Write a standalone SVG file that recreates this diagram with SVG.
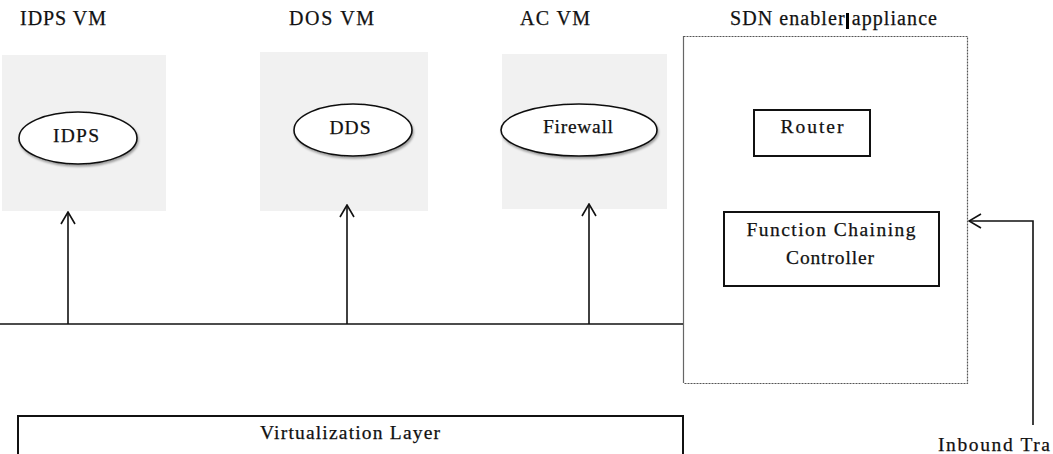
<svg xmlns="http://www.w3.org/2000/svg" width="1053" height="454" viewBox="0 0 1053 454">
  <defs>
    <style>
      .lbl { font-family: "Liberation Serif", "Times New Roman", serif; fill: #111; stroke: #111; stroke-width: 0.25; }
      .title { font-size: 20px; }
      .inner { font-size: 19.5px; }
      .vm { fill: #f1f1f1; stroke: none; }
      .oval { fill: #fff; stroke: #111; stroke-width: 1.6; }
      .box { fill: #fff; stroke: #111; stroke-width: 2; }
      .wire { fill: none; stroke: #111; stroke-width: 1.6; }
      .dotted { fill: none; stroke: #555; stroke-width: 1.2; stroke-dasharray: 2 1; }
    </style>
    <marker id="open-head" viewBox="0 0 16 16" refX="15" refY="8" markerWidth="16" markerHeight="16" markerUnits="userSpaceOnUse" orient="auto">
      <path d="M 3 1 L 15 8 L 3 15" fill="none" stroke="#111" stroke-width="1.6"/>
    </marker>
    <filter id="soft-shadow" x="-10%" y="-20%" width="125%" height="150%">
      <feDropShadow dx="1" dy="2" stdDeviation="1.2" flood-color="#000" flood-opacity="0.35"/>
    </filter>
  </defs>

  <!-- IDPS virtual machine -->
  <g id="idps-vm">
    <text class="lbl title" x="20" y="25" textLength="86" lengthAdjust="spacing">IDPS VM</text>
    <rect class="vm" x="2" y="55" width="164" height="156"/>
    <ellipse class="oval" cx="78" cy="138" rx="59" ry="26" filter="url(#soft-shadow)"/>
    <text class="lbl inner" x="76" y="142" text-anchor="middle" textLength="46" lengthAdjust="spacing">IDPS</text>
  </g>

  <!-- DoS virtual machine -->
  <g id="dos-vm">
    <text class="lbl title" x="289" y="25" textLength="85" lengthAdjust="spacing">DOS VM</text>
    <rect class="vm" x="260" y="52" width="168" height="159"/>
    <ellipse class="oval" cx="353" cy="130" rx="59" ry="26" filter="url(#soft-shadow)"/>
    <text class="lbl inner" x="350" y="134" text-anchor="middle" textLength="41" lengthAdjust="spacing">DDS</text>
  </g>

  <!-- Access control virtual machine -->
  <g id="ac-vm">
    <text class="lbl title" x="520" y="25" textLength="70" lengthAdjust="spacing">AC VM</text>
    <rect class="vm" x="502" y="54" width="165" height="155"/>
    <ellipse class="oval" cx="579" cy="130" rx="78" ry="26" filter="url(#soft-shadow)"/>
    <text class="lbl inner" x="578" y="133" text-anchor="middle" textLength="70" lengthAdjust="spacing">Firewall</text>
  </g>

  <!-- SDN enabler appliance -->
  <g id="sdn-appliance">
    <text class="lbl title" x="730" y="25" textLength="207" lengthAdjust="spacing">SDN enabler appliance</text>
    <rect x="846" y="13" width="3" height="16" fill="#000"/>
    <line x1="683.5" y1="36" x2="683.5" y2="383" stroke="#666" stroke-width="1.2"/>
    <path class="dotted" d="M 683.5 36.5 H 967.5 V 383.5 H 683.5"/>
  </g>

  <g id="router">
    <rect class="box" x="754" y="110" width="116" height="46"/>
    <text class="lbl inner" x="812" y="133" text-anchor="middle" textLength="63" lengthAdjust="spacing">Router</text>
  </g>

  <g id="function-chaining-controller">
    <rect class="box" x="724" y="212" width="215" height="74"/>
    <text class="lbl inner" x="831" y="236" text-anchor="middle" textLength="169" lengthAdjust="spacing">Function Chaining</text>
    <text class="lbl inner" x="830" y="264" text-anchor="middle" textLength="88" lengthAdjust="spacing">Controller</text>
  </g>

  <g id="virtualization-layer">
    <rect class="box" x="18" y="416" width="665" height="60"/>
    <text class="lbl inner" x="350" y="439" text-anchor="middle" textLength="180" lengthAdjust="spacing">Virtualization Layer</text>
  </g>

  <g id="inbound-traffic">
    <text class="lbl inner" x="938" y="451" textLength="112" lengthAdjust="spacing">Inbound Tra</text>
  </g>

  <!-- connectors -->
  <g id="connectors">
    <line class="wire" x1="0" y1="324" x2="683" y2="324"/>
    <line class="wire" x1="68" y1="324" x2="68" y2="212" marker-end="url(#open-head)"/>
    <line class="wire" x1="347" y1="324" x2="347" y2="205" marker-end="url(#open-head)"/>
    <line class="wire" x1="589" y1="324" x2="589" y2="204" marker-end="url(#open-head)"/>
    <path class="wire" d="M 1033 425 V 221 H 969" marker-end="url(#open-head)"/>
  </g>
</svg>
